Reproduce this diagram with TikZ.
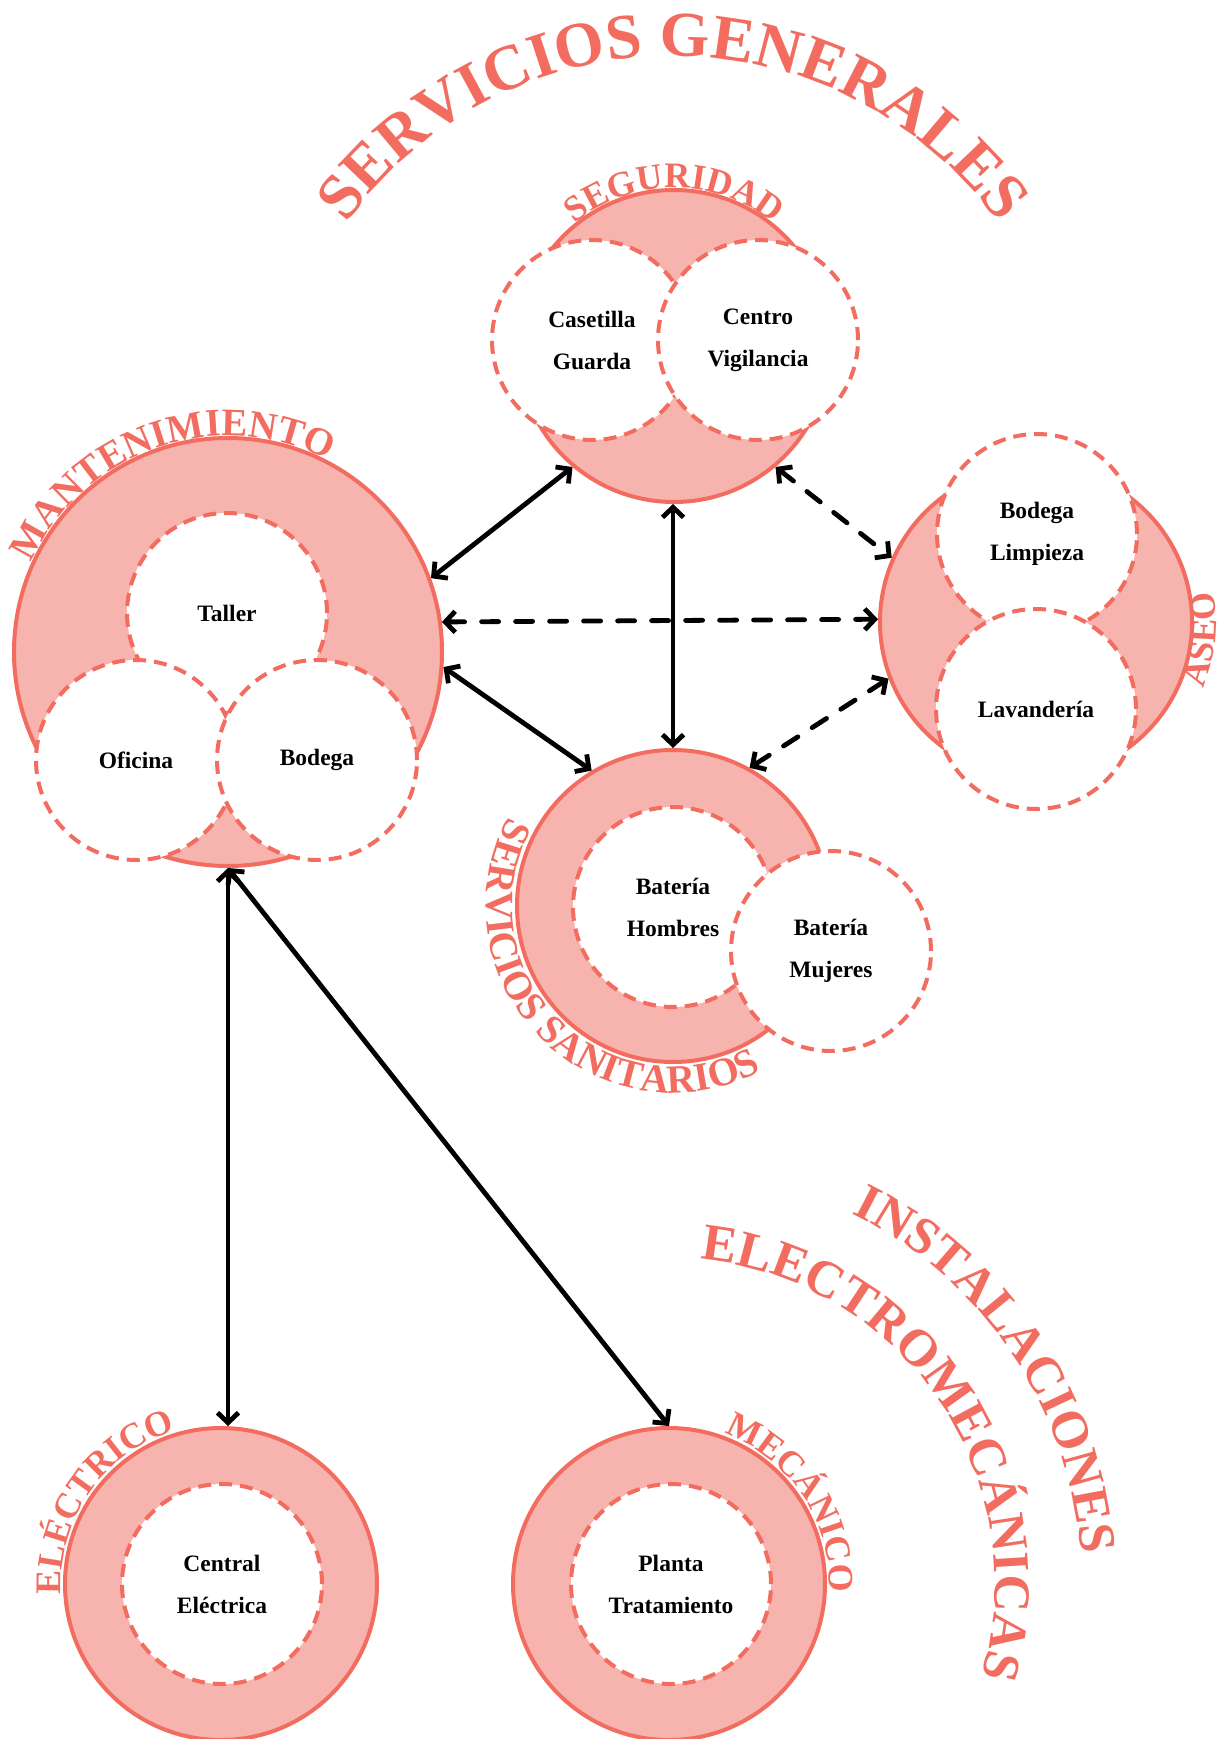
\documentclass[tikz,border=0pt]{standalone}
\usepackage{fontspec}
\setmainfont{Liberation Serif}
\usetikzlibrary{decorations.text,arrows.meta}
\definecolor{sal}{RGB}{242,108,96}
\definecolor{salfill}{RGB}{247,180,174}
\begin{document}
\begin{tikzpicture}[x=1pt,y=1pt,
  group/.style={circle, draw=sal, fill=salfill, line width=4pt, minimum size=312pt, inner sep=0pt},
  area/.style={circle, draw=sal, fill=white, line width=4pt, dash pattern=on 13pt off 8pt,
    minimum size=200pt, inner sep=0pt, align=center, font=\bfseries\fontsize{23.5}{42}\selectfont},
  link/.style={line width=4.8pt, line cap=round, line join=round,
    {Straight Barb[length=10pt,width=21pt]}-{Straight Barb[length=10pt,width=21pt]}},
  dlink/.style={link, dash pattern=on 17pt off 17pt},
  arclbl/.style={decorate, decoration={text along path, text align=center, text color=sal, text={#1}}}]
\useasboundingbox (0,0) rectangle (1222,-1739);

% groups
\node[group] (seg) at (674,-346) {};
\node[group, minimum size=428pt] (mant) at (228,-652) {};
\node[group] (aseo) at (1036,-622) {};
\node[group] (san) at (673,-906) {};
\node[group] (elec) at (221,-1584) {};
\node[group] (mec) at (669,-1584) {};

% areas
\node[area] (casetilla) at (592,-340) {Casetilla\\Guarda};
\node[area] (centro) at (758,-340) {Centro\\Vigilancia};
\node[area] (taller) at (227,-613) {Taller};
\node[area] (oficina) at (136,-760) {Oficina};
\node[area] (bodega) at (317,-760) {Bodega};
\node[area] (limpieza) at (1037,-534) {Bodega\\Limpieza};
\node[area] (lavanderia) at (1036,-709) {Lavandería};
\node[area] (hombres) at (673,-907) {Batería\\Hombres};
\node[area] (mujeres) at (831,-951) {Batería\\Mujeres};
\node[area] (central) at (222,-1584) {Central\\Eléctrica};
\node[area] (planta) at (671,-1584) {Planta\\Tratamiento};

% curved labels
\path[arclbl={|\bfseries\fontsize{64}{64}\selectfont|SERVICIOS GENERALES}]
  (673,-457) ++(165:401pt) arc[start angle=165, end angle=15, radius=401pt];
\path[arclbl={|\bfseries\fontsize{36}{36}\selectfont|SEGURIDAD}]
  (674,-346) ++(150:158pt) arc[start angle=150, end angle=30, radius=158pt];
\path[arclbl={|\bfseries\fontsize{39}{39}\selectfont|MANTENIMIENTO}]
  (228,-652) ++(176:216pt) arc[start angle=176, end angle=42, radius=216pt];
\path[arclbl={|\bfseries\fontsize{36}{36}\selectfont|ASEO}]
  (1036,-622) ++(-50:180pt) arc[start angle=-50, end angle=38, radius=180pt];
\path[arclbl={|\bfseries\fontsize{40}{40}\selectfont|SERVICIOS SANITARIOS}]
  (673,-906) ++(130:187pt) arc[start angle=130, end angle=320, radius=187pt];
\path[arclbl={|\bfseries\fontsize{36}{36}\selectfont|ELÉCTRICO}]
  (221,-1584) ++(195:160pt) arc[start angle=195, end angle=95, radius=160pt];
\path[arclbl={|\bfseries\fontsize{36}{36}\selectfont|MECÁNICO}]
  (669,-1584) ++(85:160pt) arc[start angle=85, end angle=-18, radius=160pt];
\path[arclbl={|\bfseries\fontsize{52}{52}\selectfont|INSTALACIONES}]
  (669,-1584) ++(76:413pt) arc[start angle=76, end angle=-8, radius=413pt];
\path[arclbl={|\bfseries\fontsize{52}{52}\selectfont|ELECTROMECÁNICAS}]
  (669,-1584) ++(101:326pt) arc[start angle=101, end angle=-33, radius=326pt];

% connectors
\draw[link] (seg.230) -- (mant.20);
\draw[link] (san.north |- seg.south) -- (san.north);
\draw[dlink] (seg.310) -- (aseo.156);
\draw[dlink] (mant.8.6) -- (aseo.179.3);
\draw[link] (mant.-4.6) -- (san.121);
\draw[dlink] (aseo.201) -- (san.61);
\draw[link] (mant.south) -- (mant.south |- elec.north);
\draw[link] (mant.south) -- (mec.north);
\end{tikzpicture}
\end{document}
